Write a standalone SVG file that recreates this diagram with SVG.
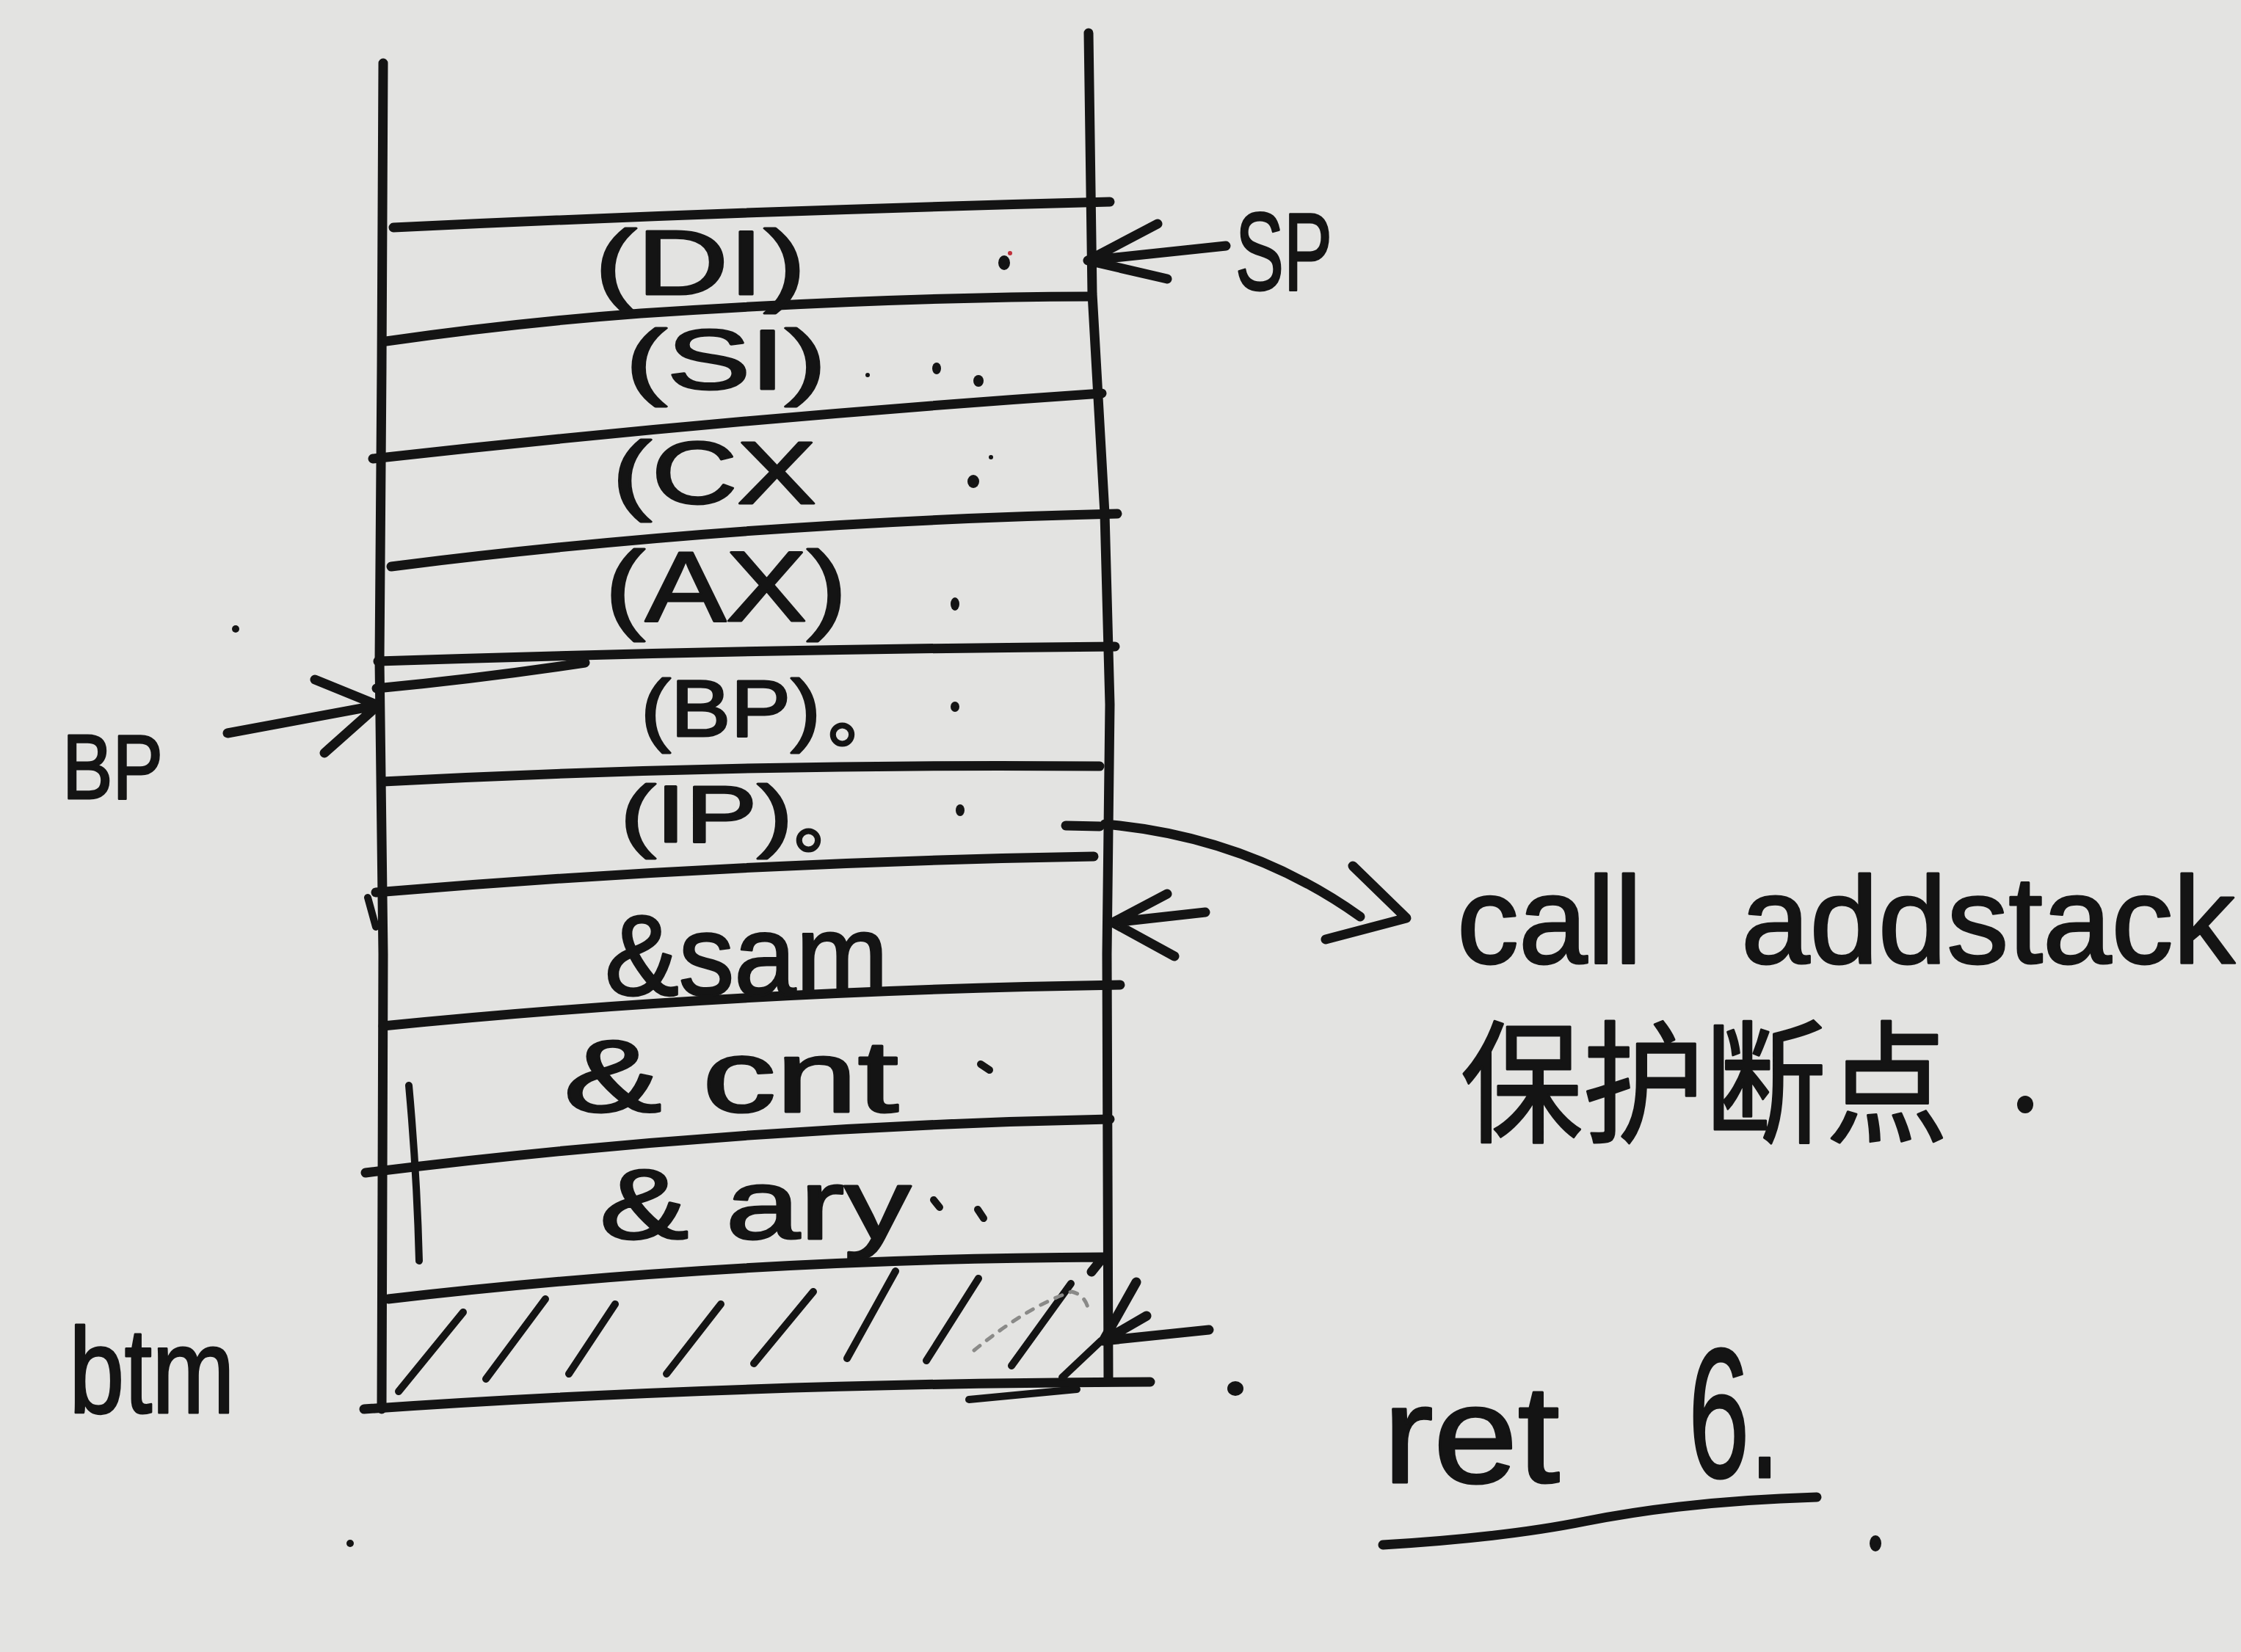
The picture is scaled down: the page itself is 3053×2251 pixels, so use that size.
<svg xmlns="http://www.w3.org/2000/svg" width="3053" height="2251" viewBox="0 0 3053 2251">
<style>
  .ink{fill:none;stroke:#141414;stroke-width:13;stroke-linecap:round;stroke-linejoin:round}
  .thin{fill:none;stroke:#141414;stroke-width:10;stroke-linecap:round;stroke-linejoin:round}
  .faint{fill:none;stroke:#8a8a88;stroke-width:5;stroke-linecap:round;stroke-dasharray:10 12}
  .dot{fill:#141414}
  text{fill:#141414;stroke:#141414;stroke-width:3;stroke-linejoin:round;font-family:"Liberation Sans","Noto Sans CJK SC",sans-serif}
  .cjk{font-family:"Noto Sans CJK SC","Liberation Sans",sans-serif}
</style>
<rect x="0" y="0" width="3053" height="2251" fill="#e3e3e1"/>

<g id="stack-frame">
  <path class="ink" d="M522,86 L520,500 L517,900 L522,1300 L520,1920"/>
  <path class="ink" d="M1483,45 L1488,400 L1505,700 L1512,960 L1508,1300 L1510,1880"/>
  <path class="ink" d="M536,310 Q1000,288 1512,275"/>
  <path class="ink" d="M526,465 Q700,440 873,427 Q1200,405 1483,404"/>
  <path class="ink" d="M508,625 Q1000,570 1501,536"/>
  <path class="ink" d="M533,772 Q1000,712 1522,700"/>
  <path class="ink" d="M515,901 Q1000,885 1519,881"/>
  <path class="ink" d="M513,938 Q650,925 797,903"/>
  <path class="ink" d="M522,1065 Q1000,1040 1498,1044"/>
  <path class="ink" d="M1452,1125 L1498,1126"/>
  <path class="ink" d="M512,1216 Q1000,1175 1490,1167"/>
  <path class="thin" d="M501,1223 L512,1263"/>
  <path class="ink" d="M522,1398 Q1000,1350 1526,1342"/>
  <path class="ink" d="M498,1598 Q1000,1535 1512,1525"/>
  <path class="thin" d="M557,1479 Q568,1600 571,1718"/>
  <path class="ink" d="M529,1770 Q1000,1715 1503,1713 L1487,1733"/>
  <path class="ink" d="M496,1920 Q1000,1885 1567,1883"/>
  <path class="thin" d="M1320,1907 L1467,1893"/>
</g>

<g id="hatching">
  <path class="thin" d="M543,1896 L631,1788"/>
  <path class="thin" d="M662,1879 L743,1770"/>
  <path class="thin" d="M775,1872 L838,1777"/>
  <path class="thin" d="M908,1872 L982,1777"/>
  <path class="thin" d="M1027,1858 L1108,1760"/>
  <path class="thin" d="M1154,1851 L1220,1732"/>
  <path class="thin" d="M1262,1854 L1333,1742"/>
  <path class="thin" d="M1378,1861 L1459,1749"/>
  <path class="thin" d="M1447,1877 L1500,1827"/>
  <path class="faint" d="M1327,1840 Q1400,1780 1460,1760 Q1480,1765 1483,1787"/>
</g>

<g id="cell-di">
  <text x="810" y="401" font-size="125" textLength="288" lengthAdjust="spacingAndGlyphs">(DI)</text>
</g>
<g id="cell-si">
  <text x="852" y="530" font-size="115" textLength="274" lengthAdjust="spacingAndGlyphs">(SI)</text>
</g>
<g id="cell-cx">
  <text x="834" y="686" font-size="120" textLength="278" lengthAdjust="spacingAndGlyphs">(CX</text>
</g>
<g id="cell-ax">
  <text x="824" y="846" font-size="136" textLength="330" lengthAdjust="spacingAndGlyphs">(AX)</text>
</g>
<g id="cell-bp">
  <text x="873" y="1003" font-size="110" textLength="245" lengthAdjust="spacingAndGlyphs">(BP)</text>
  <text class="cjk" x="1128" y="1010" font-size="100">。</text>
</g>
<g id="cell-ip">
  <text x="845" y="1147" font-size="110" textLength="235" lengthAdjust="spacingAndGlyphs">(IP)</text>
  <text class="cjk" x="1082" y="1154" font-size="100">。</text>
</g>
<g id="cell-sam">
  <text x="824" y="1355" font-size="155" textLength="386" lengthAdjust="spacingAndGlyphs">&amp;sam</text>
</g>
<g id="cell-cnt">
  <text x="768" y="1515" font-size="140" textLength="456" lengthAdjust="spacingAndGlyphs">&amp; cnt</text>
</g>
<g id="cell-ary">
  <text x="817" y="1688" font-size="135" textLength="424" lengthAdjust="spacingAndGlyphs">&amp; ary</text>
</g>

<g id="marks">
  <ellipse class="dot" cx="1368" cy="358" rx="8" ry="10"/>
  <circle cx="1376" cy="345" r="3" fill="#c0303a"/>
  <ellipse class="dot" cx="1276" cy="502" rx="6" ry="8"/>
  <ellipse class="dot" cx="1333" cy="519" rx="7" ry="8"/>
  <circle class="dot" cx="1182" cy="511" r="3"/>
  <ellipse class="dot" cx="1326" cy="656" rx="8" ry="9"/>
  <circle class="dot" cx="1350" cy="623" r="3"/>
  <ellipse class="dot" cx="1301" cy="823" rx="6" ry="9"/>
  <ellipse class="dot" cx="1301" cy="963" rx="6" ry="7"/>
  <ellipse class="dot" cx="1308" cy="1104" rx="6" ry="8"/>
  <path class="thin" d="M1336,1450 L1348,1458" stroke-width="6"/>
  <path class="thin" d="M1272,1635 L1280,1645" stroke-width="6"/>
  <path class="thin" d="M1332,1648 L1340,1660" stroke-width="6"/>
  <ellipse class="dot" cx="1683" cy="1892" rx="11" ry="10"/>
  <circle class="dot" cx="321" cy="857" r="5"/>
  <circle class="dot" cx="477" cy="2103" r="5"/>
</g>

<g id="label-sp">
  <text x="1683" y="395" font-size="150" textLength="132" lengthAdjust="spacingAndGlyphs">SP</text>
</g>
<g id="label-bp">
  <text x="85" y="1088" font-size="125" textLength="137" lengthAdjust="spacingAndGlyphs">BP</text>
</g>
<g id="label-btm">
  <text x="94" y="1925" font-size="165" textLength="226" lengthAdjust="spacingAndGlyphs">btm</text>
</g>
<g id="note-call">
  <text x="1985" y="1312" font-size="168">call<tspan x="2372">addstack</tspan></text>
  <text class="cjk" x="1990" y="1542" font-size="180" textLength="664" lengthAdjust="spacingAndGlyphs">保护断点</text>
  <ellipse class="dot" cx="2759" cy="1505" rx="11" ry="12"/>
</g>
<g id="note-ret">
  <text x="1884" y="2020" font-size="190" textLength="241" lengthAdjust="spacingAndGlyphs">ret</text>
  <text x="2300" y="2013" font-size="250" textLength="125" lengthAdjust="spacingAndGlyphs">6.</text>
  <path class="ink" d="M1884,2105 Q2050,2095 2159,2073 Q2300,2045 2475,2040"/>
  <ellipse class="dot" cx="2555" cy="2103" rx="8" ry="11"/>
</g>

<g id="connectors">
  <path class="ink" d="M1670,335 L1482,355 M1577,305 L1482,355 L1590,380"/>
  <path class="ink" d="M310,999 L515,961 M429,926 L515,961 L442,1026"/>
  <path class="ink" d="M1505,1123 Q1700,1140 1853,1249 M1843,1180 L1916,1251 L1806,1280"/>
  <path class="ink" d="M1642,1243 L1516,1257 M1590,1218 L1516,1257 L1600,1303"/>
  <path class="ink" d="M1647,1812 L1503,1827 M1548,1747 L1503,1827 L1562,1793"/>
</g>
</svg>
